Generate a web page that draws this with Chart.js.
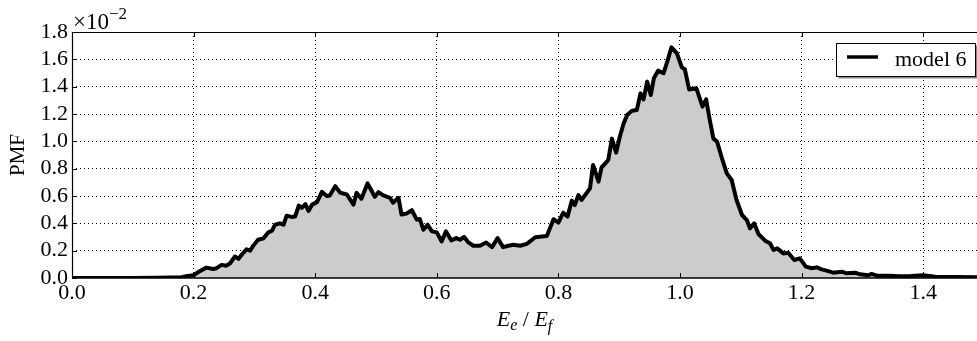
<!DOCTYPE html>
<html><head><meta charset="utf-8">
<script src="https://cdn.jsdelivr.net/npm/chart.js@4"></script>
<style>html,body{margin:0;padding:0;background:#fff;}#wrap{width:977px;height:341px;position:relative;}</style>
</head><body>
<div id="wrap"><canvas id="c" width="977" height="341"></canvas></div>
<script>
// x values: E_e / E_f
const energyRatio = [
  0.00, 0.05, 0.10, 0.14, 0.16, 0.18, 0.19, 0.20, 0.21, 0.221,
  0.232, 0.237, 0.246, 0.254, 0.260, 0.268, 0.274, 0.279, 0.287, 0.293,
  0.298, 0.306, 0.315, 0.323, 0.329, 0.334, 0.342, 0.348, 0.353, 0.361,
  0.367, 0.373, 0.378, 0.384, 0.389, 0.395, 0.403, 0.411, 0.419, 0.424,
  0.433, 0.441, 0.452, 0.463, 0.468, 0.476, 0.486, 0.493, 0.498, 0.504,
  0.512, 0.523, 0.528, 0.537, 0.542, 0.550, 0.559, 0.567, 0.572, 0.578,
  0.585, 0.592, 0.600, 0.608, 0.615, 0.624, 0.632, 0.638, 0.645, 0.652,
  0.660, 0.671, 0.681, 0.691, 0.700, 0.709, 0.718, 0.726, 0.737, 0.748,
  0.762, 0.781, 0.792, 0.800, 0.808, 0.815, 0.822, 0.827, 0.833, 0.838,
  0.852, 0.857, 0.866, 0.871, 0.882, 0.888, 0.895, 0.901, 0.907, 0.913,
  0.921, 0.929, 0.935, 0.940, 0.946, 0.952, 0.957, 0.964, 0.973, 0.979,
  0.986, 0.995, 1.003, 1.008, 1.015, 1.027, 1.037, 1.043, 1.049, 1.055,
  1.061, 1.069, 1.077, 1.085, 1.093, 1.102, 1.110, 1.115, 1.122, 1.129,
  1.140, 1.148, 1.154, 1.160, 1.170, 1.178, 1.188, 1.197, 1.207, 1.217,
  1.225, 1.233, 1.241, 1.252, 1.266, 1.274, 1.288, 1.296, 1.310, 1.315,
  1.324, 1.345, 1.36, 1.38, 1.40, 1.42, 1.45, 1.49
];
// PMF values, in units of 10^-2
const pmfE2 = [
  0.0, 0.0, 0.0, 0.002, 0.004, 0.006, 0.015, 0.02, 0.05, 0.076,
  0.066, 0.07, 0.096, 0.09, 0.108, 0.157, 0.14, 0.17, 0.21, 0.20,
  0.235, 0.28, 0.29, 0.334, 0.346, 0.39, 0.40, 0.39, 0.456, 0.447,
  0.45, 0.53, 0.513, 0.54, 0.49, 0.537, 0.555, 0.63, 0.60, 0.604,
  0.672, 0.625, 0.611, 0.537, 0.623, 0.58, 0.692, 0.636, 0.594, 0.628,
  0.604, 0.587, 0.55, 0.587, 0.464, 0.471, 0.496, 0.427, 0.432, 0.353,
  0.39, 0.341, 0.334, 0.267, 0.341, 0.275, 0.292, 0.28, 0.3, 0.26,
  0.236, 0.236, 0.26, 0.226, 0.292, 0.226, 0.236, 0.243, 0.236, 0.25,
  0.298, 0.307, 0.43, 0.405, 0.478, 0.449, 0.566, 0.534, 0.607, 0.571,
  0.656, 0.827, 0.705, 0.81, 0.863, 1.02, 0.917, 1.034, 1.127, 1.193,
  1.224, 1.229, 1.351, 1.307, 1.437, 1.339, 1.461, 1.517, 1.498, 1.583,
  1.688, 1.644, 1.541, 1.527, 1.38, 1.388, 1.254, 1.307, 1.156, 1.02,
  0.998, 0.876, 0.766, 0.717, 0.571, 0.461, 0.424, 0.363, 0.4, 0.322,
  0.273, 0.254, 0.205, 0.217, 0.18, 0.185, 0.132, 0.144, 0.083, 0.071,
  0.078, 0.063, 0.054, 0.039, 0.046, 0.034, 0.039, 0.027, 0.02, 0.03,
  0.017, 0.017, 0.012, 0.015, 0.02, 0.01, 0.008, 0.005
];
const xTicks = [0.0, 0.2, 0.4, 0.6, 0.8, 1.0, 1.2, 1.4];
const yTicks = [0.0, 0.2, 0.4, 0.6, 0.8, 1.0, 1.2, 1.4, 1.6, 1.8];
const seriesLabel = 'model 6';
const yTitle = 'PMF';
const FONT = '"Liberation Serif", "Times New Roman", serif';

const overlay = {
  id: 'overlay',
  afterDraw(chart) {
    const ctx = chart.ctx, a = chart.chartArea;
    const xs = chart.scales.x, ys = chart.scales.y;
    ctx.save();
    // axes frame (right side is cropped)
    ctx.strokeStyle = '#000';
    ctx.lineWidth = 1.2;
    ctx.beginPath();
    ctx.moveTo(a.right + 2, a.top + 0.5); ctx.lineTo(a.left + 0.5, a.top + 0.5);
    ctx.lineTo(a.left + 0.5, a.bottom);
    ctx.stroke();
    ctx.lineWidth = 1.6;
    ctx.beginPath();
    ctx.moveTo(a.left, a.bottom); ctx.lineTo(a.right + 2, a.bottom);
    ctx.stroke();
    // inward ticks
    ctx.lineWidth = 1;
    ctx.beginPath();
    xTicks.forEach(v => {
      const px = Math.round(xs.getPixelForValue(v)) + 0.5;
      ctx.moveTo(px, a.bottom); ctx.lineTo(px, a.bottom - 5);
      ctx.moveTo(px, a.top); ctx.lineTo(px, a.top + 5);
    });
    yTicks.forEach(v => {
      const py = Math.round(ys.getPixelForValue(v)) + 0.5;
      ctx.moveTo(a.left, py); ctx.lineTo(a.left + 5, py);
    });
    ctx.stroke();
    // exponent label
    ctx.fillStyle = '#000';
    ctx.textBaseline = 'alphabetic';
    ctx.textAlign = 'left';
    ctx.font = '23px ' + FONT;
    ctx.fillText('\u00d710', a.left + 1, 29);
    const w = ctx.measureText('\u00d710').width;
    ctx.font = '17px ' + FONT;
    ctx.fillText('\u22122', a.left + 1 + w, 19);
    // y title
    ctx.save();
    ctx.translate(24, (a.top + a.bottom) / 2);
    ctx.rotate(-Math.PI / 2);
    ctx.textAlign = 'center';
    ctx.font = '21px ' + FONT;
    ctx.fillText(yTitle, 0, 0);
    ctx.restore();
    // x title: E_e / E_f
    const parts = [
      ['E', 'italic 22px ' + FONT, 0],
      ['e', 'italic 16px ' + FONT, 4],
      [' / ', '22px ' + FONT, 0],
      ['E', 'italic 22px ' + FONT, 0],
      ['f', 'italic 16px ' + FONT, 5]
    ];
    let tw = 0;
    parts.forEach(p => { ctx.font = p[1]; tw += ctx.measureText(p[0]).width; });
    let cx = (a.left + a.right) / 2 - tw / 2;
    const base = 326;
    parts.forEach(p => { ctx.font = p[1]; ctx.fillText(p[0], cx, base + p[2]); cx += ctx.measureText(p[0]).width; });
    // legend
    const lx = 836.5, ly = 43.5, lw = 139, lh = 33;
    ctx.fillStyle = '#888';
    ctx.fillRect(lx + 2, ly + 2, lw, lh);
    ctx.fillStyle = '#fff';
    ctx.fillRect(lx, ly, lw, lh);
    ctx.strokeStyle = '#000';
    ctx.lineWidth = 1;
    ctx.strokeRect(lx, ly, lw, lh);
    ctx.lineWidth = 3.5;
    ctx.beginPath(); ctx.moveTo(847, 57); ctx.lineTo(878, 57); ctx.stroke();
    ctx.fillStyle = '#000';
    ctx.font = '22px ' + FONT;
    ctx.fillText(seriesLabel, 895, 66);
    ctx.restore();
  }
};

new Chart(document.getElementById('c'), {
  type: 'line',
  data: {
    datasets: [{
      label: seriesLabel,
      data: energyRatio.map((x, i) => ({ x: x, y: pmfE2[i] })),
      borderColor: '#000',
      borderWidth: 4,
      backgroundColor: '#cccccc',
      fill: 'origin',
      pointRadius: 0,
      tension: 0,
      borderJoinStyle: 'round',
      borderCapStyle: 'round'
    }]
  },
  options: {
    responsive: false,
    animation: false,
    events: [],
    layout: { padding: { top: 32, right: 0, left: 0, bottom: 0 } },
    plugins: { legend: { display: false }, tooltip: { enabled: false } },
    scales: {
      x: {
        type: 'linear', min: 0, max: 1.4885, z: 1,
        afterBuildTicks: s => { s.ticks = xTicks.map(v => ({ value: v })); },
        afterFit: s => { s.height = 63; },
        ticks: { font: { family: FONT, size: 22 }, color: '#000', padding: 2, maxRotation: 0, autoSkip: false,
                 callback: v => Number(v).toFixed(1) },
        grid: { color: ctx => (ctx.tick && ctx.tick.value === 0) ? 'rgba(0,0,0,0)' : '#000', lineWidth: 1, drawTicks: false, tickLength: 0 },
        border: { display: false, dash: [1, 3] }
      },
      y: {
        min: 0, max: 1.8, z: 1,
        afterBuildTicks: s => { s.ticks = yTicks.map(v => ({ value: v })); },
        afterFit: s => { s.width = 72; },
        ticks: { font: { family: FONT, size: 22 }, color: '#000', padding: 4, autoSkip: false,
                 callback: v => Number(v).toFixed(1) },
        grid: { color: ctx => (ctx.tick && (ctx.tick.value === 0 || ctx.tick.value === 1.8)) ? 'rgba(0,0,0,0)' : '#000', lineWidth: 1, drawTicks: false, tickLength: 0 },
        border: { display: false, dash: [1, 3] }
      }
    }
  }
  ,
  plugins: [overlay]
});
</script>
</body></html>
